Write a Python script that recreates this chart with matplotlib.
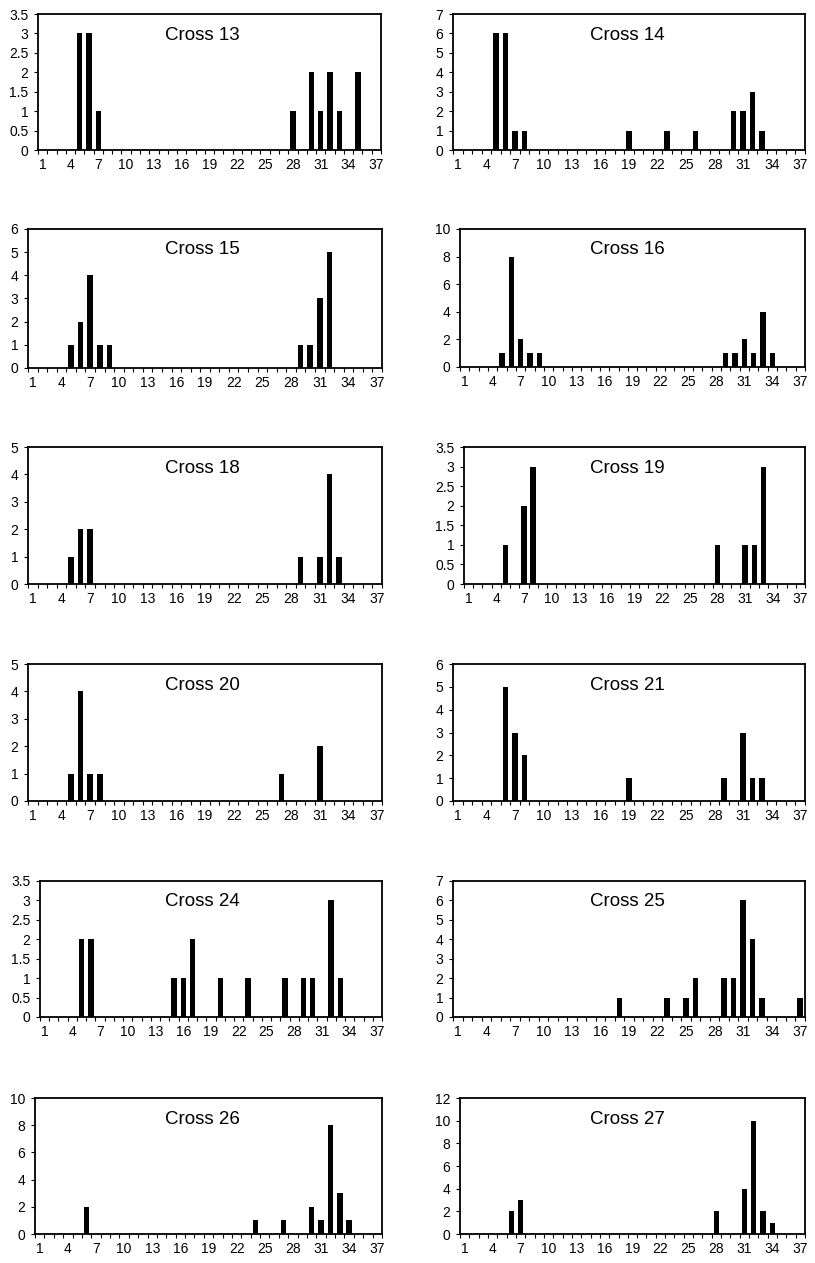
import matplotlib
matplotlib.use("Agg")
import matplotlib.pyplot as plt
import matplotlib.transforms as mtransforms
import numpy as np

plt.rcParams['font.family'] = ['Liberation Sans', 'DejaVu Sans']

# ---------------- data ----------------
categories = list(range(1, 38))
tick_values = list(range(1, 38, 3))
tick_labels = [str(v) for v in tick_values]

names = ["Cross 13", "Cross 14", "Cross 15", "Cross 16", "Cross 18", "Cross 19",
         "Cross 20", "Cross 21", "Cross 24", "Cross 25", "Cross 26", "Cross 27"]

cross13_pos = [5, 6, 7, 28, 30, 31, 32, 33, 35]
cross13_cnt = [3, 3, 1, 1, 2, 1, 2, 1, 2]
cross14_pos = [5, 6, 7, 8, 19, 23, 26, 30, 31, 32, 33]
cross14_cnt = [6, 6, 1, 1, 1, 1, 1, 2, 2, 3, 1]
cross15_pos = [5, 6, 7, 8, 9, 29, 30, 31, 32]
cross15_cnt = [1, 2, 4, 1, 1, 1, 1, 3, 5]
cross16_pos = [5, 6, 7, 8, 9, 29, 30, 31, 32, 33, 34]
cross16_cnt = [1, 8, 2, 1, 1, 1, 1, 2, 1, 4, 1]
cross18_pos = [5, 6, 7, 29, 31, 32, 33]
cross18_cnt = [1, 2, 2, 1, 1, 4, 1]
cross19_pos = [5, 7, 8, 28, 31, 32, 33]
cross19_cnt = [1, 2, 3, 1, 1, 1, 3]
cross20_pos = [5, 6, 7, 8, 27, 31]
cross20_cnt = [1, 4, 1, 1, 1, 2]
cross21_pos = [6, 7, 8, 19, 29, 31, 32, 33]
cross21_cnt = [5, 3, 2, 1, 1, 3, 1, 1]
cross24_pos = [5, 6, 15, 16, 17, 20, 23, 27, 29, 30, 32, 33]
cross24_cnt = [2, 2, 1, 1, 2, 1, 1, 1, 1, 1, 3, 1]
cross25_pos = [18, 23, 25, 26, 29, 30, 31, 32, 33, 37]
cross25_cnt = [1, 1, 1, 2, 2, 2, 6, 4, 1, 1]
cross26_pos = [6, 24, 27, 30, 31, 32, 33, 34]
cross26_cnt = [2, 1, 1, 2, 1, 8, 3, 1]
cross27_pos = [6, 7, 28, 31, 32, 33, 34]
cross27_cnt = [2, 3, 2, 4, 10, 2, 1]

y_max = [3.5, 7, 6, 10, 5, 3.5, 5, 6, 3.5, 7, 10, 12]
y_step = [0.5, 1, 1, 2, 1, 0.5, 1, 1, 0.5, 1, 2, 2]

series = [(cross13_pos, cross13_cnt), (cross14_pos, cross14_cnt),
          (cross15_pos, cross15_cnt), (cross16_pos, cross16_cnt),
          (cross18_pos, cross18_cnt), (cross19_pos, cross19_cnt),
          (cross20_pos, cross20_cnt), (cross21_pos, cross21_cnt),
          (cross24_pos, cross24_cnt), (cross25_pos, cross25_cnt),
          (cross26_pos, cross26_cnt), (cross27_pos, cross27_cnt)]

# ---------------- layout (pixels: left, top, right, bottom) ----------------
W, H = 815, 1263
boxes = [
    (38, 14, 381, 150), (453, 14, 805, 150),
    (28, 229, 382, 368), (460, 229, 805, 367),
    (28, 447, 382, 584), (464, 447, 805, 584),
    (28, 664, 382, 801), (453, 664, 805, 801),
    (40, 881, 382, 1017), (453, 881, 805, 1017),
    (35, 1098, 382, 1234), (460, 1098, 805, 1234),
]
title_x_px = [202, 627]

fig = plt.figure(figsize=(W / 100, H / 100), dpi=100)

for i, (name, (pos, cnt)) in enumerate(zip(names, series)):
    l, t, r, b = boxes[i]
    ax = fig.add_axes([l / W, 1 - b / H, (r - l) / W, (b - t) / H])
    counts = np.zeros(len(categories))
    for p, c in zip(pos, cnt):
        counts[categories.index(p)] = c
    ax.bar(categories, counts, width=0.58, color='black', edgecolor='black', linewidth=0)
    ax.set_xlim(0.5, 37.5)
    ax.set_ylim(0, y_max[i])
    yt = np.arange(0, y_max[i] + y_step[i] / 2, y_step[i])
    ax.set_yticks(yt)
    ax.set_yticklabels(['%g' % v for v in yt])
    ax.set_xticks(tick_values)
    ax.set_xticklabels(tick_labels)
    ax.set_xticks(np.arange(0.5, 38, 1), minor=True)
    ax.tick_params(axis='x', which='major', length=0, pad=5.5, labelsize=10)
    ax.tick_params(axis='x', which='minor', length=3, width=0.8, direction='out')
    ax.tick_params(axis='y', which='major', length=3, width=0.8, direction='out',
                   pad=4, labelsize=10)
    for s in ax.spines.values():
        s.set_linewidth(1.3)
        s.set_color('black')
    tx = (title_x_px[i % 2] - l) / (r - l)
    trans = mtransforms.offset_copy(ax.transAxes, fig=fig, y=-21, units='dots')
    ax.text(tx, 1.0, name, transform=trans, ha='center', va='center', fontsize=13.5)

fig.savefig('out.png', dpi=100)
